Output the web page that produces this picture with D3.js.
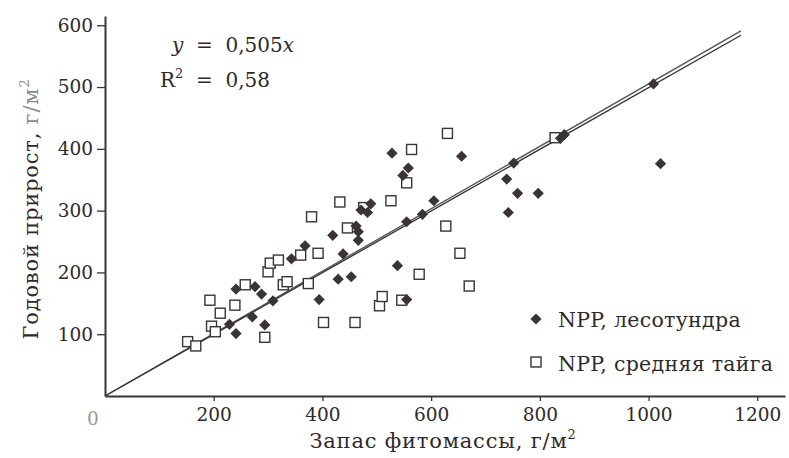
<!DOCTYPE html>
<html lang="ru">
<head>
  <meta charset="UTF-8">
  <title>Годовой прирост и запас фитомассы</title>
  <script src="https://d3js.org/d3.v7.min.js"></script>
  <style>
    body { margin: 0; background: #fff; }
    svg text { font-family: "DejaVu Serif", "Liberation Serif", serif; fill: #2e2a2b; }
  </style>
</head>
<body>
  <div id="chart"></div>
  <script>
    // NPP, лесотундра (ромбы): [запас фитомассы, годовой прирост]
    const tundraPts = [
      [229, 116], [241, 101], [241, 173], [271, 128], [276, 177], [288, 165],
      [294, 115], [309, 154], [343, 222], [368, 243], [394, 156], [419, 260],
      [429, 189], [438, 230], [453, 193], [462, 275], [466, 266], [466, 252],
      [471, 301], [483, 297], [489, 311], [528, 393], [538, 211], [548, 357],
      [555, 282], [555, 156], [558, 369], [584, 294], [605, 316], [656, 388],
      [739, 351], [742, 297], [752, 377], [759, 328], [797, 328], [838, 417],
      [845, 423], [1009, 505], [1022, 376]
    ];
    // NPP, средняя тайга (квадраты)
    const taigaPts = [
      [152, 88], [167, 81], [193, 155], [196, 113], [203, 104], [212, 134],
      [239, 147], [258, 180], [294, 95], [300, 201], [304, 215], [319, 220],
      [328, 180], [335, 185], [360, 228], [374, 182], [380, 290], [392, 231],
      [402, 119], [432, 314], [446, 272], [460, 119], [476, 305], [505, 146],
      [510, 161], [526, 316], [546, 155], [555, 345], [564, 399], [578, 197],
      [627, 275], [630, 425], [653, 231], [670, 178], [828, 418]
    ];
    const xTicks = [200, 400, 600, 800, 1000, 1200];
    const yTicks = [100, 200, 300, 400, 500, 600];
    const trendSlopes = [0.505, 0.499];   // линия регрессии (двойная в оригинале)
    const trendEnd = 1170;
    const legendLabels = ["NPP, лесотундра", "NPP, средняя тайга"];

    const W = 789, H = 458;
    const ink = "#3a3436";

    const svg = d3.select("#chart").append("svg")
      .attr("width", W).attr("height", H);

    const x = d3.scaleLinear().domain([0, 1251]).range([105, 785]);
    const y = d3.scaleLinear().domain([0, 615]).range([396, 16]);

    // оси
    const xAxis = svg.append("g")
      .attr("transform", `translate(0,${y(0)})`)
      .call(d3.axisBottom(x).tickValues(xTicks).tickFormat(d => d)
        .tickSize(5).tickPadding(7).tickSizeOuter(0));
    const yAxis = svg.append("g")
      .attr("transform", `translate(${x(0)},0)`)
      .call(d3.axisLeft(y).tickValues(yTicks).tickFormat(d => d)
        .tickSize(8).tickPadding(4).tickSizeOuter(0));

    [xAxis, yAxis].forEach(g => {
      g.select(".domain").attr("stroke", ink).attr("stroke-width", 2);
      g.selectAll(".tick line").attr("stroke", ink).attr("stroke-width", 1.3);
      g.selectAll(".tick text")
        .style("font-family", '"DejaVu Serif", serif')
        .style("font-size", "18.5px")
        .attr("fill", "#2e2a2b");
    });

    svg.append("text")
      .attr("x", 93).attr("y", 425)
      .attr("text-anchor", "middle")
      .style("font-size", "18.5px")
      .style("fill", "#9a9a9a")
      .text("0");

    // линии тренда
    trendSlopes.forEach((k, i) => {
      svg.append("line")
        .attr("x1", x(0)).attr("y1", y(0))
        .attr("x2", x(trendEnd)).attr("y2", y(k * trendEnd))
        .attr("stroke", i === 0 ? "#555" : ink)
        .attr("stroke-width", 1.4);
    });

    // точки
    const diamond = d3.symbol().type(d3.symbolDiamond2).size(80);
    svg.selectAll(".taiga")
      .data(taigaPts)
      .enter()
      .append("rect")
      .attr("class", "taiga")
      .attr("x", d => x(d[0]) - 5)
      .attr("y", d => y(d[1]) - 5)
      .attr("width", 10).attr("height", 10)
      .attr("fill", "#fff")
      .attr("stroke", ink)
      .attr("stroke-width", 1.4);

    svg.selectAll(".tundra")
      .data(tundraPts)
      .enter()
      .append("path")
      .attr("class", "tundra")
      .attr("d", diamond)
      .attr("transform", d => `translate(${x(d[0])},${y(d[1])})`)
      .attr("fill", ink);

    // уравнение
    const eq = svg.append("text").attr("x", 172).attr("y", 52)
      .style("font-size", "20px").attr("xml:space", "preserve");
    eq.append("tspan").style("font-style", "italic").text("y");
    eq.append("tspan").text("  =  0,505");
    eq.append("tspan").style("font-style", "italic").text("x");

    const r2 = svg.append("text").attr("x", 160).attr("y", 87)
      .style("font-size", "20px").attr("xml:space", "preserve");
    r2.append("tspan").text("R");
    r2.append("tspan").attr("dy", -9).style("font-size", "13px").text("2");
    r2.append("tspan").attr("dy", 9).text("  =  0,58");

    // легенда
    const leg = svg.append("g");
    leg.append("path")
      .attr("d", diamond)
      .attr("transform", `translate(536,319)`)
      .attr("fill", ink);
    leg.append("rect")
      .attr("x", 531).attr("y", 357).attr("width", 10).attr("height", 10)
      .attr("fill", "#fff").attr("stroke", ink).attr("stroke-width", 1.4);
    legendLabels.forEach((t, i) => {
      leg.append("text")
        .attr("x", 558).attr("y", 327 + i * 44)
        .style("font-size", "20.5px")
        .style("letter-spacing", "0.3px")
        .text(t);
    });

    // подписи осей
    const xt = svg.append("text")
      .attr("x", 443).attr("y", 448)
      .attr("text-anchor", "middle")
      .style("font-size", "21px")
      .style("letter-spacing", "0.8px");
    xt.append("tspan").text("Запас фитомассы, г/м");
    xt.append("tspan").attr("dy", -9).style("font-size", "13px").text("2");

    const yt = svg.append("text")
      .attr("transform", "translate(38,209) rotate(-90)")
      .attr("text-anchor", "middle")
      .style("font-size", "21px")
      .style("letter-spacing", "0.8px");
    yt.append("tspan").text("Годовой прирост, ");
    yt.append("tspan").style("fill", "#8a8a8a").text("г/м");
    yt.append("tspan").attr("dy", -9).style("font-size", "13px").style("fill", "#8a8a8a").text("2");
  </script>
</body>
</html>
